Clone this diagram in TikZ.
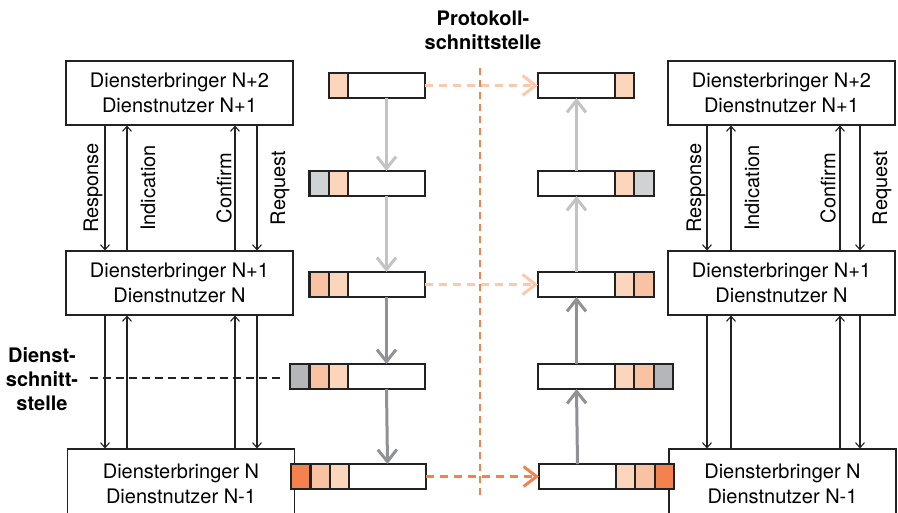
\documentclass[tikz,border=0pt]{standalone}
\usepackage{fontspec}
\setmainfont{TeX Gyre Heros}
\usetikzlibrary{arrows.meta}
\definecolor{lp}{HTML}{FCD5BD}
\definecolor{mp}{HTML}{F9C2A2}
\definecolor{org}{HTML}{F4824F}
\definecolor{lg}{HTML}{D1D2D4}
\definecolor{dg}{HTML}{B4B6B9}
\definecolor{arl}{HTML}{C2C3C5}
\definecolor{ard}{HTML}{8F9194}
\definecolor{dashp}{HTML}{FCC9AC}
\definecolor{ln}{HTML}{222222}
\tikzset{
  txt/.style={font=\fontsize{20}{25}\selectfont},
  svcbox/.style={draw=ln, line width=1.1pt, minimum width=227pt, minimum height=64pt, inner sep=0pt, align=center, fill=white, txt},
  svcarr/.style={draw=ln, line width=1.1pt, -{Straight Barb[length=5pt,width=9pt]}},
  lbl/.style={rotate=90, inner sep=0pt, txt},
  pk/.style={draw=ln, line width=2.2pt, minimum width=77pt, minimum height=25pt, inner sep=0pt, outer sep=0pt, fill=white},
  hd/.style={pk, minimum width=19.3pt},
  garr/.style={line width=3pt, -{Straight Barb[length=12pt,width=19pt]}},
  harr/.style={line width=3pt, dash pattern=on 8pt off 6pt, -{Straight Barb[length=13pt,width=20pt]}},
  bold/.style={font=\fontsize{20}{24}\selectfont\bfseries, align=center, inner sep=0pt}
}
\begin{document}
\begin{tikzpicture}[x=1pt,y=-1pt]
\useasboundingbox (0,0) rectangle (898,512);
\clip (0,0) rectangle (898,512);

% service boxes
\node[svcbox] (L1) at (179.5,93) {Diensterbringer N+2\\Dienstnutzer N+1};
\node[svcbox] (L2) at (179.5,283) {Diensterbringer N+1\\Dienstnutzer N};
\node[svcbox, minimum height=70pt] (L3) at (181,484) {Diensterbringer N\\Dienstnutzer N-1};
\node[svcbox] (R1) at (781.5,93) {Diensterbringer N+2\\Dienstnutzer N+1};
\node[svcbox] (R2) at (781.5,283) {Diensterbringer N+1\\Dienstnutzer N};
\node[svcbox, minimum height=70pt] (R3) at (782.5,484) {Diensterbringer N\\Dienstnutzer N-1};

% column coordinates
\coordinate (la) at (105,0); \coordinate (lb) at (127,0);
\coordinate (lc) at (235,0); \coordinate (ld) at (257,0);
\coordinate (ra) at (707,0); \coordinate (rb) at (731,0);
\coordinate (rc) at (840,0); \coordinate (rd) at (860,0);

% service primitive arrows
\draw[svcarr] (L1.south -| la) -- (L2.north -| la);
\draw[svcarr] (L2.north -| lb) -- (L1.south -| lb);
\draw[svcarr] (L2.north -| lc) -- (L1.south -| lc);
\draw[svcarr] (L1.south -| ld) -- (L2.north -| ld);
\draw[svcarr] (L2.south -| la) -- (L3.north -| la);
\draw[svcarr] (L3.north -| lb) -- (L2.south -| lb);
\draw[svcarr] (L3.north -| lc) -- (L2.south -| lc);
\draw[svcarr] (L2.south -| ld) -- (L3.north -| ld);

\draw[svcarr] (R1.south -| ra) -- (R2.north -| ra);
\draw[svcarr] (R2.north -| rb) -- (R1.south -| rb);
\draw[svcarr] (R2.north -| rc) -- (R1.south -| rc);
\draw[svcarr] (R1.south -| rd) -- (R2.north -| rd);
\draw[svcarr] (R2.south -| ra) -- (R3.north -| ra);
\draw[svcarr] (R3.north -| rb) -- (R2.south -| rb);
\draw[svcarr] (R3.north -| rc) -- (R2.south -| rc);
\draw[svcarr] (R2.south -| rd) -- (R3.north -| rd);

% labels
\node[lbl] (lres) at (93,188) {Response};
\node[lbl] (lind) at (148,188) {Indication};
\node[lbl] (lcon) at (224,188) {Confirm};
\node[lbl] (lreq) at (280,188) {Request};
\node[lbl] (rres) at (696,188) {Response};
\node[lbl] (rind) at (752,188) {Indication};
\node[lbl] (rcon) at (828,188) {Confirm};
\node[lbl] (rreq) at (882,188) {Request};

% headings
\node[bold] (proto) at (483,30) {Protokoll-\\schnittstelle};
\node[bold] (dienst) at (42,379) {Dienst-\\schnitt-\\stelle};

% service interface dashed line
\coordinate (ds1) at (90,378);
\coordinate (ds2) at (280,378);
\draw[ln, line width=2pt, dash pattern=on 8pt off 5pt] (ds1) -- (ds2);

% protocol interface line
\coordinate (pv1) at (480,68);
\coordinate (pv2) at (480,497);

% left packets
\node[pk] (pl1) at (386.5,85.5) {};
\node[hd, fill=lp, anchor=east] (pl1a) at (pl1.west) {};

\node[pk] (pl2) at (386.5,183.5) {};
\node[hd, fill=lp, anchor=east] (pl2a) at (pl2.west) {};
\node[hd, fill=lg, anchor=east] (pl2b) at (pl2a.west) {};

\node[pk] (pl3) at (386.5,284.5) {};
\node[hd, fill=lp, anchor=east] (pl3a) at (pl3.west) {};
\node[hd, fill=mp, anchor=east] (pl3b) at (pl3a.west) {};

\node[pk] (pl4) at (386.5,376.5) {};
\node[hd, fill=lp, anchor=east] (pl4a) at (pl4.west) {};
\node[hd, fill=mp, anchor=east] (pl4b) at (pl4a.west) {};
\node[hd, fill=dg, anchor=east] (pl4c) at (pl4b.west) {};

\node[pk] (pl5) at (387.5,476.5) {};
\node[hd, fill=lp, anchor=east] (pl5a) at (pl5.west) {};
\node[hd, fill=mp, anchor=east] (pl5b) at (pl5a.west) {};
\node[hd, fill=org, anchor=east] (pl5c) at (pl5b.west) {};

% right packets
\node[pk] (pr1) at (576.5,85.5) {};
\node[hd, fill=lp, anchor=west] (pr1a) at (pr1.east) {};

\node[pk] (pr2) at (576.5,183.5) {};
\node[hd, fill=lp, anchor=west] (pr2a) at (pr2.east) {};
\node[hd, fill=lg, anchor=west] (pr2b) at (pr2a.east) {};

\node[pk] (pr3) at (576.5,284.5) {};
\node[hd, fill=lp, anchor=west] (pr3a) at (pr3.east) {};
\node[hd, fill=mp, anchor=west] (pr3b) at (pr3a.east) {};

\node[pk] (pr4) at (576.5,376.5) {};
\node[hd, fill=lp, anchor=west] (pr4a) at (pr4.east) {};
\node[hd, fill=mp, anchor=west] (pr4b) at (pr4a.east) {};
\node[hd, fill=dg, anchor=west] (pr4c) at (pr4b.east) {};

\node[pk] (pr5) at (577.5,476.5) {};
\node[hd, fill=lp, anchor=west] (pr5a) at (pr5.east) {};
\node[hd, fill=mp, anchor=west] (pr5b) at (pr5a.east) {};
\node[hd, fill=org, anchor=west] (pr5c) at (pr5b.east) {};

% vertical packet arrows
\draw[garr, arl] (pl1.south) -- (pl2.north);
\draw[garr, arl] (pl2.south) -- (pl3.north);
\draw[garr, ard] (pl3.south) -- (pl4.north);
\draw[garr, ard] (pl4.south) -- (pl5.north);
\draw[garr, ard] (pr5.north) -- (pr4.south);
\draw[garr, ard] (pr4.north) -- (pr3.south);
\draw[garr, arl] (pr3.north) -- (pr2.south);
\draw[garr, arl] (pr2.north) -- (pr1.south);

% horizontal peer arrows
\draw[harr, dashp] (pl1.east) -- (pr1.west);
\draw[harr, dashp] (pl3.east) -- (pr3.west);
\draw[harr, org] (pl5.east) -- (pr5.west);

\draw[org, line width=2.5pt, dash pattern=on 7pt off 5pt] (pv1) -- (pv2);
\end{tikzpicture}
\end{document}
